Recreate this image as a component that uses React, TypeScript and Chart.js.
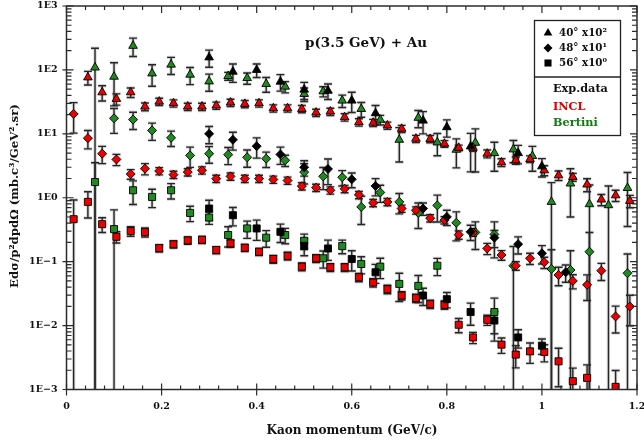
import React, { useEffect, useRef } from "react";
import { Chart, registerables } from "chart.js";

Chart.register(...registerables);

// ---------- data (plotted values, already multiplied by the legend factors) ----------
const momentaIncl = [
  0.015, 0.045, 0.075, 0.105, 0.135, 0.165, 0.195, 0.225, 0.255, 0.285,
  0.315, 0.345, 0.375, 0.405, 0.435, 0.465, 0.495, 0.525, 0.555, 0.585,
  0.615, 0.645, 0.675, 0.705, 0.735, 0.765, 0.795, 0.825, 0.855, 0.885,
  0.915, 0.945, 0.975, 1.005, 1.035, 1.065, 1.095, 1.125, 1.155, 1.185,
];
const incl40 = [
  null, 76.4, 44.6, 35.2, 44.6, 26.7, 31.9, 30.1, 26.7, 26.7,
  27.7, 30.8, 29.4, 30.1, 25.1, 25.1, 24.5, 21.5, 22.3, 18.2,
  15.2, 14.9, 13.5, 12.0, 8.38, 8.32, 7.0, 6.05, 6.05, 4.89,
  3.57, 3.85, 4.03, 2.69, 2.24, 2.11, 1.61, 0.938, 1.09, 0.893,
];
const incl40Err = [
  null, 0.24, 0.27, 0.2, 0.17, 0.14, 0.13, 0.13, 0.13, 0.13,
  0.13, 0.13, 0.13, 0.13, 0.13, 0.13, 0.13, 0.13, 0.13, 0.13,
  0.13, 0.13, 0.13, 0.13, 0.13, 0.13, 0.12, 0.1, 0.12, 0.14,
  0.14, 0.13, 0.12, 0.18, 0.17, 0.14, 0.23, 0.2, 0.2, 0.22,
];
const incl48 = [
  20.5, 8.55, 4.89, 3.98, 2.35, 2.85, 2.62, 2.3, 2.52, 2.69,
  1.99, 2.16, 1.99, 1.99, 1.93, 1.86, 1.52, 1.44, 1.31, 1.38,
  1.11, 0.83, 0.861, 0.679, 0.638, 0.479, 0.447, 0.264, 0.287, 0.161,
  0.127, 0.0865, 0.113, 0.0977, 0.0619, 0.05, 0.0434, 0.0724, 0.0139, 0.0199,
];
const incl48Err = [
  0.5, 0.32, 0.3, 0.2, 0.17, 0.2, 0.13, 0.13, 0.13, 0.13,
  0.13, 0.13, 0.13, 0.13, 0.13, 0.13, 0.13, 0.13, 0.13, 0.13,
  0.13, 0.13, 0.13, 0.13, 0.13, 0.13, 0.13, 0.15, 0.13, 0.2,
  0.17, 0.15, 0.2, 0.2, 0.32, 0.25, 0.43, 0.3, 0.45, 0.5,
];
const incl56 = [
  0.462, 0.861, 0.386, 0.245, 0.301, 0.29, 0.163, 0.187, 0.215, 0.22,
  0.152, 0.193, 0.165, 0.143, 0.11, 0.123, 0.0836, 0.113, 0.0817, 0.0817,
  0.0571, 0.0471, 0.0371, 0.0295, 0.0269, 0.0217, 0.0211, 0.0103, 0.00653, 0.0123,
  0.00504, 0.00352, 0.00395, 0.00386, 0.00276, 0.00135, 0.00152, null, 0.0011, null,
];
const incl56Err = [
  1.0, 0.44, 0.26, 0.2, 0.17, 0.16, 0.13, 0.13, 0.13, 0.13,
  0.13, 0.13, 0.13, 0.13, 0.14, 0.14, 0.14, 0.14, 0.14, 0.14,
  0.15, 0.15, 0.15, 0.15, 0.15, 0.15, 0.15, 0.25, 0.2, 0.18,
  0.27, 0.38, 0.35, 0.3, 0.6, 0.6, 0.6, null, 0.8, null,
];

const momentaBertini = [
  0.06, 0.1, 0.14, 0.18, 0.22, 0.26, 0.3, 0.34, 0.38, 0.42,
  0.46, 0.5, 0.54, 0.58, 0.62, 0.66, 0.7, 0.74, 0.78, 0.82,
  0.86, 0.9, 0.94, 0.98, 1.02, 1.06, 1.1, 1.14, 1.18,
];
const bertini40 = [
  109, 78.3, 238, 88.1, 121, 84.1, 66.1, 80.2, 74.6, 60.3,
  54.7, 42.1, 46.2, 33.1, 24.5, 16.6, 8.07, 17.8, 7.33, 5.64,
  7.24, 4.99, 5.7, 4.49, 0.861, 1.67, 0.793, 0.764, 1.42,
];
const bertini40Err = [
  1.0, 0.65, 0.32, 0.37, 0.3, 0.3, 0.3, 0.14, 0.2, 0.26,
  0.2, 0.24, 0.18, 0.22, 0.26, 0.17, 0.55, 0.3, 0.38, 0.48,
  0.65, 0.48, 0.38, 0.42, 1.0, 0.7, 1.0, 1.0, 0.75,
];
const bertini48 = [
  null, 17.5, 16.7, 11.3, 8.67, 4.59, 4.89, 4.71, 4.29, 4.08,
  3.85, 2.52, 2.16, 2.09, 0.719, 1.21, 0.861, 0.579, 0.759, 0.406,
  0.287, 0.267, 0.0865, null, 0.0769, 0.0741, 0.143, null, 0.0659,
];
const bertini48Err = [
  null, 0.42, 0.3, 0.3, 0.27, 0.35, 0.29, 0.3, 0.3, 0.27,
  0.2, 0.35, 0.38, 0.27, 0.47, 0.3, 0.35, 0.43, 0.45, 0.48,
  0.46, 0.57, 1.0, null, 1.0, 1.0, 1.0, null, 1.0,
];
const bertini56 = [
  1.76, 0.323, 1.31, 1.03, 1.31, 0.579, 0.491, 0.261, 0.331, 0.237,
  0.261, 0.212, 0.113, 0.175, 0.092, 0.0836, 0.0449, 0.0418, 0.0865, null,
  null, 0.0163, null, null, null, null, null, null, null,
];
const bertini56Err = [
  1.0, 1.0, 0.4, 0.32, 0.27, 0.27, 0.22, 0.35, 0.3, 0.29,
  0.27, 0.27, 0.3, 0.24, 0.3, 0.35, 0.47, 0.45, 0.3, null,
  null, 0.65, null, null, null, null, null, null, null,
];

const momentaExp = [0.3, 0.35, 0.4, 0.45, 0.5, 0.55, 0.6, 0.65, 0.7, 0.75, 0.8, 0.85, 0.9, 0.95, 1.0, 1.05];
const exp40 = [157, 93.8, 100, 65.5, 49.1, 47.3, 33.1, 21.0, null, 16.1, 12.7, 6.35, null, 4.99, 3.1, null];
const exp40Err = [0.3, 0.32, 0.24, 0.29, 0.3, 0.27, 0.35, 0.32, null, 0.38, 0.3, 0.6, null, 0.32, 0.32, null];
const exp48 = [10.0, 8.07, 6.41, 4.76, 2.99, 2.82, 1.94, 1.53, null, 0.679, 0.502, 0.293, 0.237, 0.188, 0.135, 0.0682];
const exp48Err = [0.3, 0.31, 0.35, 0.3, 0.27, 0.43, 0.26, 0.3, null, 0.22, 0.27, 0.27, 0.3, 0.3, 0.32, 0.3];
const exp56 = [0.678, 0.533, 0.331, 0.293, 0.177, 0.161, 0.11, 0.0682, null, 0.0295, 0.0259, 0.0163, 0.012, 0.00653, 0.00485, null];
const exp56Err = [0.35, 0.32, 0.35, 0.32, 0.3, 0.35, 0.35, 0.33, null, 0.3, 0.27, 0.38, 0.38, 0.32, 0.27, null];

// ---------- axes / labels ----------
const xTickValues = [0, 0.2, 0.4, 0.6, 0.8, 1, 1.2];
const xTickLabels = ["0", "0.2", "0.4", "0.6", "0.8", "1", "1.2"];
const yTickValues = [1e3, 1e2, 1e1, 1, 1e-1, 1e-2, 1e-3];
const yTickLabels = ["1E3", "1E2", "1E1", "1E0", "1E\u22121", "1E\u22122", "1E\u22123"];
const angleLabels = ["40\u00b0 x10\u00b2", "48\u00b0 x10\u00b9", "56\u00b0 x10\u2070"];
const modelLabels = ["Exp.data", "INCL", "Bertini"];
const xTitle = "Kaon momentum (GeV/c)";
const yTitle = "Ed\u03c3/p\u00b2dpd\u03a9 (mb.c\u00b3/GeV\u00b2.sr)";
const reactionLabel = "p(3.5 GeV) + Au";

const X_MIN = 0;
const X_MAX = 1.2;
const Y_MIN = 1e-3;
const Y_MAX = 1e3;

const RED = "#ec0000";
const GREEN = "#1f8a1f";
const BLACK = "#000000";
const FONT = "'DejaVu Serif'";

function pts(xs: number[], ys: (number | null)[], errs: (number | null)[]) {
  const out: any[] = [];
  xs.forEach((x, i) => {
    const y = ys[i];
    if (y == null) return;
    out.push({ x, y, e: errs[i] ?? 0 });
  });
  return out;
}

function mk(label: string, data: any[], style: string, color: string, radius: number) {
  return {
    label,
    data,
    pointStyle: style,
    pointRadius: radius,
    pointHoverRadius: radius,
    backgroundColor: color,
    borderColor: "rgba(0,0,0,0.9)",
    borderWidth: 1,
    showLine: false,
  };
}

function fitFont(ctx: CanvasRenderingContext2D, text: string, width: number) {
  ctx.font = `bold 20px ${FONT}`;
  const w = ctx.measureText(text).width;
  const size = (20 * width) / w;
  return `bold ${size.toFixed(2)}px ${FONT}`;
}

function shape(ctx: CanvasRenderingContext2D, style: string, x: number, y: number, r: number) {
  ctx.beginPath();
  if (style === "triangle") {
    ctx.moveTo(x, y - r);
    ctx.lineTo(x + r * 0.866, y + r * 0.5);
    ctx.lineTo(x - r * 0.866, y + r * 0.5);
  } else if (style === "rectRot") {
    ctx.moveTo(x, y - r);
    ctx.lineTo(x + r, y);
    ctx.lineTo(x, y + r);
    ctx.lineTo(x - r, y);
  } else {
    const s = r * Math.SQRT1_2;
    ctx.rect(x - s, y - s, 2 * s, 2 * s);
  }
  ctx.closePath();
}

const decorPlugin = {
  id: "decor",
  beforeDatasetsDraw(chart: any) {
    const { ctx, chartArea: ca, scales } = chart;
    const xs = scales.x;
    const ys = scales.y;
    ctx.save();
    ctx.beginPath();
    ctx.rect(ca.left, ca.top, ca.right - ca.left, ca.bottom - ca.top);
    ctx.clip();
    const cap = 4;
    const passes = [
      { color: "rgba(0,0,0,0.16)", width: 3.4 },
      { color: "#262626", width: 1.4 },
    ];
    for (const pass of passes) {
      ctx.strokeStyle = pass.color;
      ctx.lineWidth = pass.width;
      chart.data.datasets.forEach((ds: any) => {
        ds.data.forEach((p: any) => {
          if (!p.e) return;
          const px = xs.getPixelForValue(p.x);
          const hi = p.y * (1 + p.e);
          const lo = p.y * (1 - p.e);
          const pyHi = ys.getPixelForValue(hi);
          const clipped = lo <= Y_MIN;
          const pyLo = clipped ? ca.bottom + 3 : ys.getPixelForValue(lo);
          ctx.beginPath();
          ctx.moveTo(px, pyHi);
          ctx.lineTo(px, pyLo);
          ctx.moveTo(px - cap, pyHi);
          ctx.lineTo(px + cap, pyHi);
          if (!clipped) {
            ctx.moveTo(px - cap, pyLo);
            ctx.lineTo(px + cap, pyLo);
          }
          ctx.stroke();
        });
      });
    }
    ctx.restore();
  },
  afterDatasetsDraw(chart: any) {
    const { ctx, chartArea: ca, scales } = chart;
    const xs = scales.x;
    const ys = scales.y;
    ctx.save();
    // frame
    ctx.strokeStyle = "#2b2b2b";
    ctx.lineWidth = 1.5;
    ctx.strokeRect(ca.left, ca.top, ca.right - ca.left, ca.bottom - ca.top);
    // ticks
    ctx.lineWidth = 1.2;
    ctx.beginPath();
    for (let k = 0; k <= 30; k++) {
      const v = k * 0.04;
      const px = xs.getPixelForValue(v);
      const major = k % 5 === 0;
      if (major) {
        ctx.moveTo(px, ca.bottom - 6);
        ctx.lineTo(px, ca.bottom + 6);
        ctx.moveTo(px, ca.top);
        ctx.lineTo(px, ca.top + 7);
      } else {
        ctx.moveTo(px, ca.bottom - 4);
        ctx.lineTo(px, ca.bottom);
        ctx.moveTo(px, ca.top);
        ctx.lineTo(px, ca.top + 4);
      }
    }
    for (let e = -3; e <= 3; e++) {
      const py = ys.getPixelForValue(Math.pow(10, e));
      ctx.moveTo(ca.left - 4, py);
      ctx.lineTo(ca.left + 7, py);
      ctx.moveTo(ca.right - 7, py);
      ctx.lineTo(ca.right, py);
      if (e < 3) {
        for (let m = 2; m <= 9; m++) {
          const pm = ys.getPixelForValue(m * Math.pow(10, e));
          ctx.moveTo(ca.left, pm);
          ctx.lineTo(ca.left + 5, pm);
          ctx.moveTo(ca.right - 5, pm);
          ctx.lineTo(ca.right, pm);
        }
      }
    }
    ctx.stroke();

    // tick labels
    ctx.fillStyle = "#111";
    ctx.font = `bold 9.5px ${FONT}`;
    ctx.textAlign = "center";
    ctx.textBaseline = "middle";
    xTickValues.forEach((v, i) => {
      ctx.fillText(xTickLabels[i], xs.getPixelForValue(v), 406.5);
    });
    ctx.textAlign = "right";
    yTickValues.forEach((v, i) => {
      ctx.fillText(yTickLabels[i], ca.left - 9, ys.getPixelForValue(v));
    });

    // axis titles
    ctx.textAlign = "center";
    ctx.font = fitFont(ctx, xTitle, 171);
    ctx.fillText(xTitle, 352, 431);
    ctx.save();
    ctx.translate(15, 196);
    ctx.rotate(-Math.PI / 2);
    ctx.font = fitFont(ctx, yTitle, 184);
    ctx.fillText(yTitle, 0, 0);
    ctx.restore();

    // reaction label
    ctx.font = fitFont(ctx, reactionLabel, 122);
    ctx.fillText(reactionLabel, 366, 43);

    // legend box
    ctx.fillStyle = "#ffffff";
    ctx.fillRect(534.5, 20.5, 86, 115);
    ctx.strokeStyle = "#222";
    ctx.lineWidth = 1.3;
    ctx.strokeRect(534.5, 20.5, 86, 115);
    ctx.beginPath();
    ctx.moveTo(534.5, 77);
    ctx.lineTo(620.5, 77);
    ctx.stroke();
    const styles = ["triangle", "rectRot", "rect"];
    const radii = [5, 4.5, 5];
    const rowY = [33, 48, 63];
    styles.forEach((s, i) => {
      shape(ctx, s, 548, rowY[i], radii[i]);
      ctx.fillStyle = "#000";
      ctx.fill();
    });
    ctx.fillStyle = "#111";
    ctx.textAlign = "left";
    ctx.font = fitFont(ctx, angleLabels[0], 48);
    angleLabels.forEach((t, i) => ctx.fillText(t, 559, rowY[i] + 0.5));
    const modelColors = ["#111", "#dd0000", "#137a13"];
    const modelY = [89, 107.5, 123.5];
    ctx.font = fitFont(ctx, modelLabels[0], 55);
    modelLabels.forEach((t, i) => {
      ctx.fillStyle = modelColors[i];
      ctx.fillText(t, 553, modelY[i]);
    });
    ctx.restore();
  },
};

export default function App() {
  const ref = useRef<HTMLCanvasElement | null>(null);
  useEffect(() => {
    document.body.style.margin = "0";
    const canvas = ref.current;
    if (!canvas) return;
    const datasets = [
      mk("Exp 40", pts(momentaExp, exp40, exp40Err), "triangle", BLACK, 5),
      mk("Exp 48", pts(momentaExp, exp48, exp48Err), "rectRot", BLACK, 4.5),
      mk("Exp 56", pts(momentaExp, exp56, exp56Err), "rect", BLACK, 5),
      mk("INCL 40", pts(momentaIncl, incl40, incl40Err), "triangle", RED, 5),
      mk("INCL 48", pts(momentaIncl, incl48, incl48Err), "rectRot", RED, 4.5),
      mk("INCL 56", pts(momentaIncl, incl56, incl56Err), "rect", RED, 5),
      mk("Bertini 40", pts(momentaBertini, bertini40, bertini40Err), "triangle", GREEN, 5),
      mk("Bertini 48", pts(momentaBertini, bertini48, bertini48Err), "rectRot", GREEN, 4.5),
      mk("Bertini 56", pts(momentaBertini, bertini56, bertini56Err), "rect", GREEN, 5),
    ];
    const chart = new Chart(canvas, {
      type: "scatter",
      data: { datasets } as any,
      options: {
        responsive: false,
        animation: false,
        devicePixelRatio: 1,
        layout: { padding: { left: 66.5, right: 7, top: 5.5, bottom: 51.5 } },
        plugins: { legend: { display: false }, tooltip: { enabled: false } },
        events: [],
        scales: {
          x: { type: "linear", min: X_MIN, max: X_MAX, display: false },
          y: { type: "logarithmic", min: Y_MIN, max: Y_MAX, display: false },
        },
      } as any,
      plugins: [decorPlugin as any],
    });
    return () => chart.destroy();
  }, []);
  return (
    <div style={{ width: 644, height: 441, background: "#fff" }}>
      <canvas ref={ref} width={644} height={441} style={{ display: "block" }} />
    </div>
  );
}
